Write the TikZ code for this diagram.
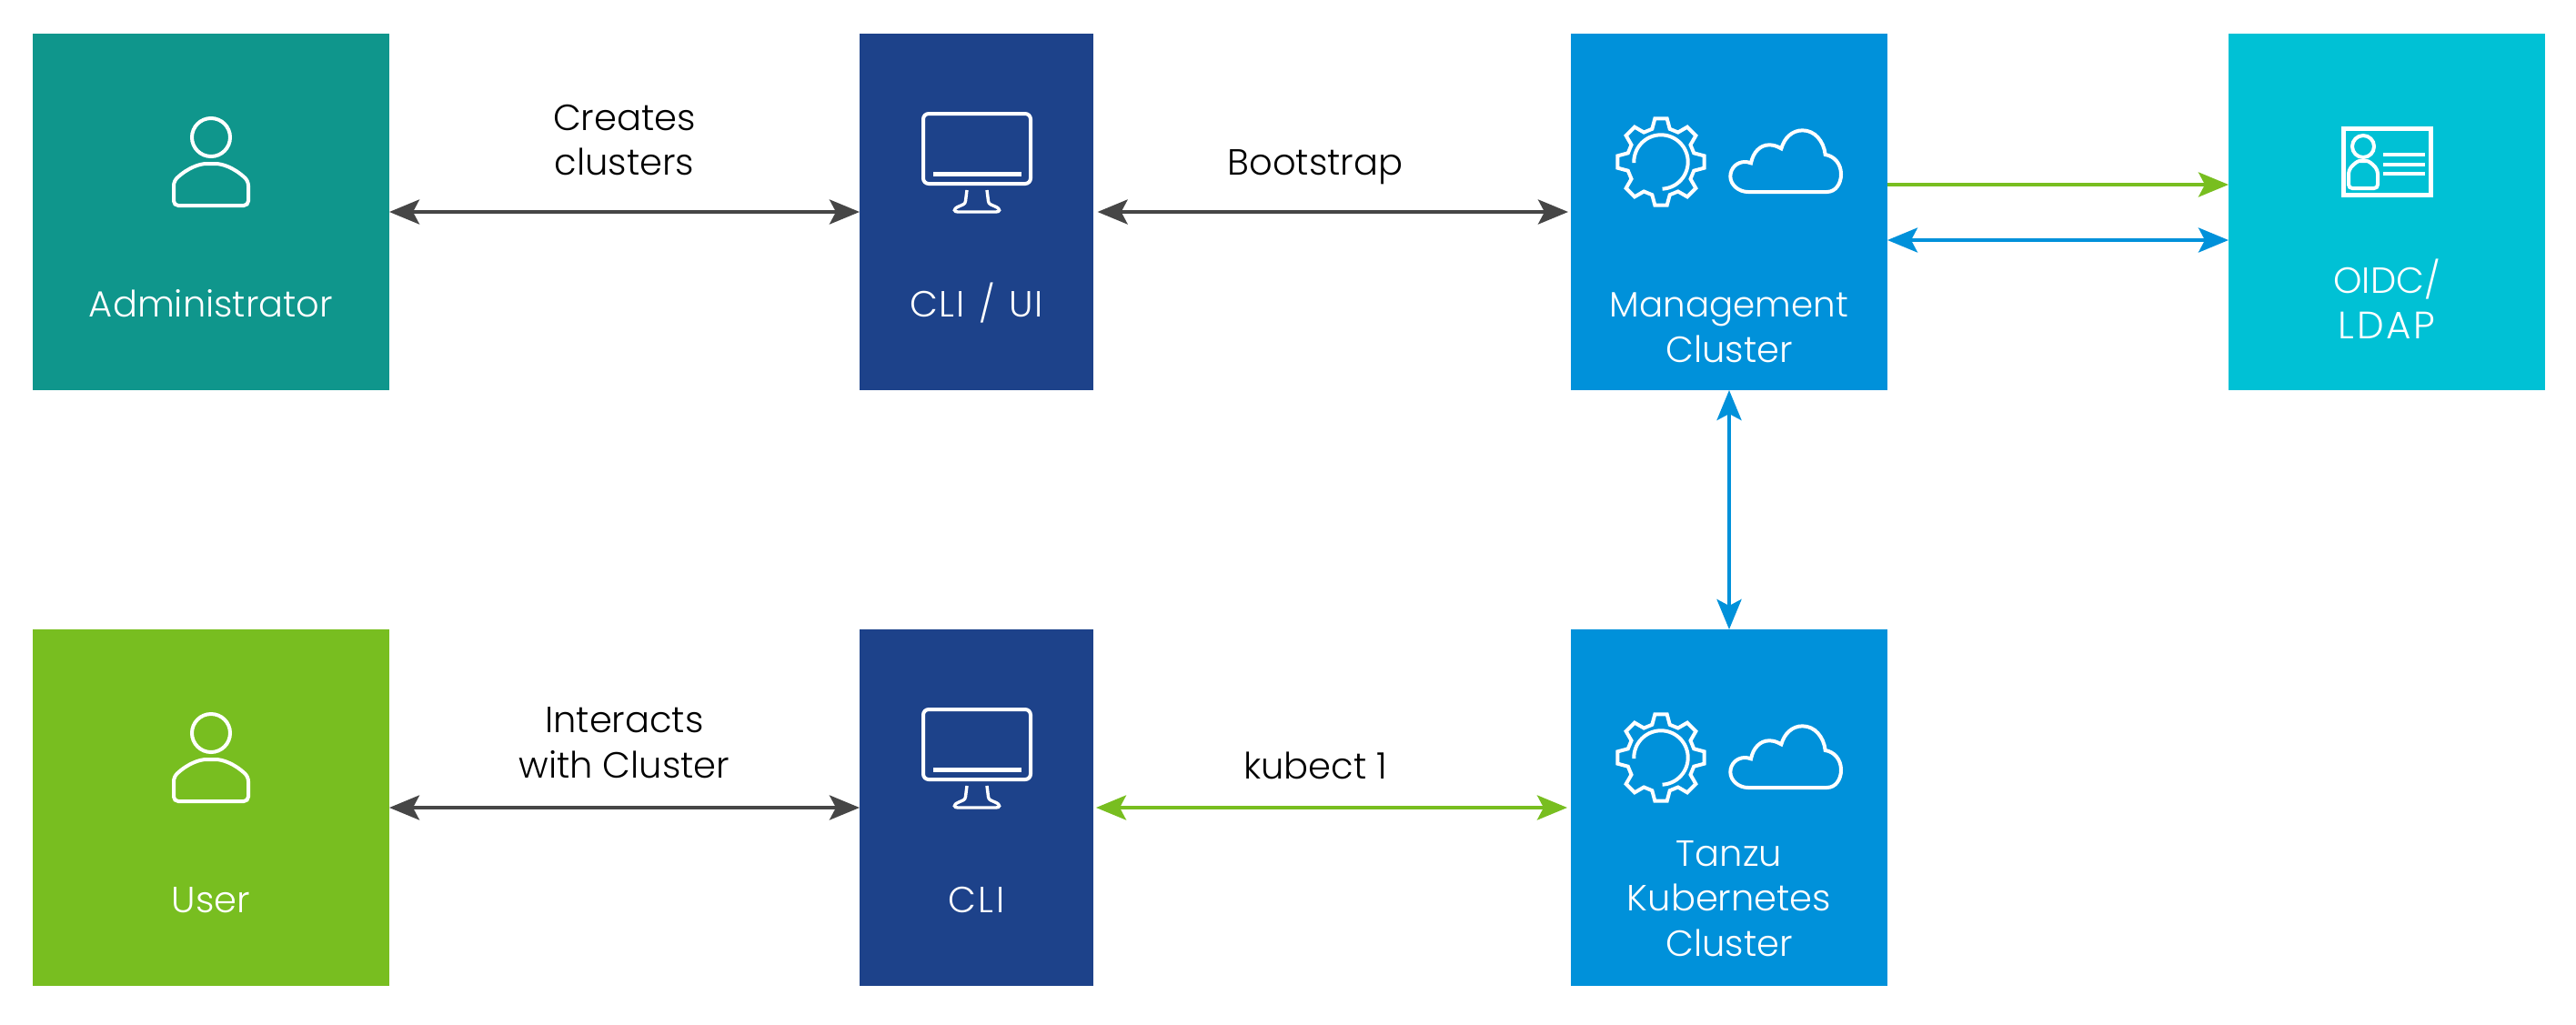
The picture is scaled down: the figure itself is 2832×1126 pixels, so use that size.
\documentclass[tikz,border=0pt]{standalone}
\usepackage{fontspec}
\setmainfont{Poppins Light}
\usetikzlibrary{arrows.meta}
\definecolor{cteal}{HTML}{0F968C}
\definecolor{cnavy}{HTML}{1D428A}
\definecolor{cblue}{HTML}{0091DA}
\definecolor{ccyan}{HTML}{00C1D5}
\definecolor{cgreen}{HTML}{78BE20}
\definecolor{cdark}{HTML}{464646}
\tikzset{
  x=0.5pt,y=-0.5pt,
  box/.style={rectangle,inner sep=0pt,outer sep=0pt,minimum height=196pt},
  boxwide/.style={box,minimum width=196pt},
  boxmid/.style={box,minimum width=128.5pt},
  boxcl/.style={box,minimum width=174pt},
  wlabel/.style={text=white,font=\fontsize{20}{25}\selectfont,align=center,anchor=base,inner sep=0pt},
  blabel/.style={text=black,font=\fontsize{20}{25}\selectfont,align=center,anchor=base,inner sep=0pt},
  icon/.style={draw=white,line width=2pt,fill=none},
  conn/.style={line width=2pt,{Stealth[length=16.5pt,width=13.5pt,inset=3.5pt]}-{Stealth[length=16.5pt,width=13.5pt,inset=3.5pt]}},
  oneway/.style={line width=2pt,-{Stealth[length=16.5pt,width=13.5pt,inset=3.5pt]}},
  person/.pic={
    \draw[icon] (0,0) circle[radius=10.5pt];
    \draw[icon,rounded corners=2.5pt] (0,75) -- (41,75) -- (41,48)
      .. controls (25,33) and (12,29) .. (0,29)
      .. controls (-12,29) and (-25,33) .. (-41,48) -- (-41,75) -- cycle;
  },
  monitor/.pic={
    \draw[icon,rounded corners=3pt] (-59,-38) rectangle (59,39);
    \fill[white] (-48.5,26) rectangle (48.5,31);
    \draw[icon,line width=1.7pt] (-11,46) -- (-12.5,58)
      .. controls (-13,62) and (-16,62) .. (-20,64)
      .. controls (-27,67) and (-25,70) .. (-21,70)
      -- (21,70)
      .. controls (25,70) and (27,67) .. (20,64)
      .. controls (16,62) and (13,62) .. (12.5,58) -- (11,46);
  },
  clusterglyph/.pic={
    \begin{scope}[shift={(86,68)}]
      \draw[icon,line join=miter] (-8:48)
        \foreach \a in {0,45,...,315}{ -- (\a-8:48) -- (\a+8:48) -- (\a+15:37.5) -- (\a+30:37.5) } -- cycle;
      \draw[icon] plot[domain=178:447,samples=70,smooth] ({29.7*cos(\x)},{29.7*sin(\x)});
    \end{scope}
    \begin{scope}[scale=1/3]
      \draw[icon] (545,303) -- (805,303) .. controls (835,303) and (852,275) .. (852,245)
        .. controls (852,210) and (830,185) .. (800,180)
        .. controls (795,135) and (765,100) .. (725,100)
        .. controls (690,100) and (665,125) .. (655,160)
        .. controls (640,152) and (630,148) .. (615,148)
        .. controls (585,148) and (562,172) .. (555,208)
        .. controls (548,205) and (540,204) .. (535,204)
        .. controls (508,204) and (487,225) .. (487,252)
        .. controls (487,280) and (515,303) .. (545,303) -- cycle;
    \end{scope}
  },
  idcard/.pic={
    \draw[draw=white,line width=2.5pt] (2576,141) rectangle (2672,214.5);
    \draw[icon] (2598,161) circle[radius=6pt];
    \draw[icon,rounded corners=2pt] (2582,207) -- (2614,207) -- (2614,187)
      .. controls (2608,180) and (2604,177) .. (2598,177)
      .. controls (2592,177) and (2588,180) .. (2582,187) -- cycle;
    \fill[white] (2620,168) rectangle (2666,172);
    \fill[white] (2620,179) rectangle (2666,183);
    \fill[white] (2620,189) rectangle (2666,193);
  },
}
\begin{document}
\begin{tikzpicture}
\useasboundingbox (0,0) rectangle (2832,1126);
% boxes
\node[boxwide,fill=cteal] (admin) at (232,233) {};
\node[boxmid,fill=cnavy] (cliui) at (1073.5,233) {};
\node[boxcl,fill=cblue] (mgmt) at (1901,233) {};
\node[boxcl,fill=ccyan] (oidc) at (2624,233) {};
\node[boxwide,fill=cgreen] (user) at (232,888) {};
\node[boxmid,fill=cnavy] (cli) at (1073.5,888) {};
\node[boxcl,fill=cblue] (tanzu) at (1901,888) {};
% icons
\pic at (232,151) {person};
\pic at (232,806) {person};
\pic at (1074,163) {monitor};
\pic at (1074,818) {monitor};
\pic at (1740,110) {clusterglyph};
\pic at (1740,765) {clusterglyph};
\pic at (0,0) {idcard};
% box texts
\node[wlabel] (tadmin) at (232,348) {Administrator};
\node[wlabel] (tcliui) at (1073.5,348) {\addfontfeature{LetterSpace=4}CLI\hspace{1.5pt} /\hspace{1.5pt} UI};
\node[wlabel,font=\fontsize{19.4}{25}\selectfont] (tmgmt1) at (1901,348) {Management};
\node[wlabel] (tmgmt2) at (1901,398) {Cluster};
\node[wlabel] (toidc1) at (2624,322) {OIDC/};
\node[wlabel,font=\fontsize{21}{25}\selectfont] (toidc2) at (2624,372) {\addfontfeature{LetterSpace=7}LDAP};
\node[wlabel] (tuser) at (232,1003) {User};
\node[wlabel] (tcli) at (1073.5,1003) {\addfontfeature{LetterSpace=6}CLI};
\node[wlabel] (ttanzu1) at (1901,952) {Tanzu};
\node[wlabel] (ttanzu2) at (1901,1001) {Kubernetes};
\node[wlabel] (ttanzu3) at (1901,1051) {Cluster};
% connector texts
\node[blabel] (lc1) at (686.5,143) {Creates};
\node[blabel] (lc2) at (686.5,192) {clusters};
\node[blabel] (lb) at (1446,192) {Bootstrap};
\node[blabel] (li1) at (686.5,805) {Interacts};
\node[blabel] (li2) at (686.5,855) {with Cluster};
\node[blabel] (lk) at (1446,856) {kubect 1};
% connectors
\draw[conn,cdark] (admin) -- (cliui);
\draw[conn,cdark,shorten <=2.3pt,shorten >=1.5pt] (cliui) -- (mgmt);
\draw[oneway,cgreen] ([yshift=15pt]mgmt.east) -- ([yshift=15pt]oidc.west);
\draw[conn,cblue] ([yshift=-15.5pt]mgmt.east) -- ([yshift=-15.5pt]oidc.west);
\draw[conn,cblue] (mgmt) -- (tanzu);
\draw[conn,cdark] (user) -- (cli);
\draw[conn,cgreen,shorten <=1.5pt,shorten >=2pt] (cli) -- (tanzu);
\end{tikzpicture}
\end{document}
